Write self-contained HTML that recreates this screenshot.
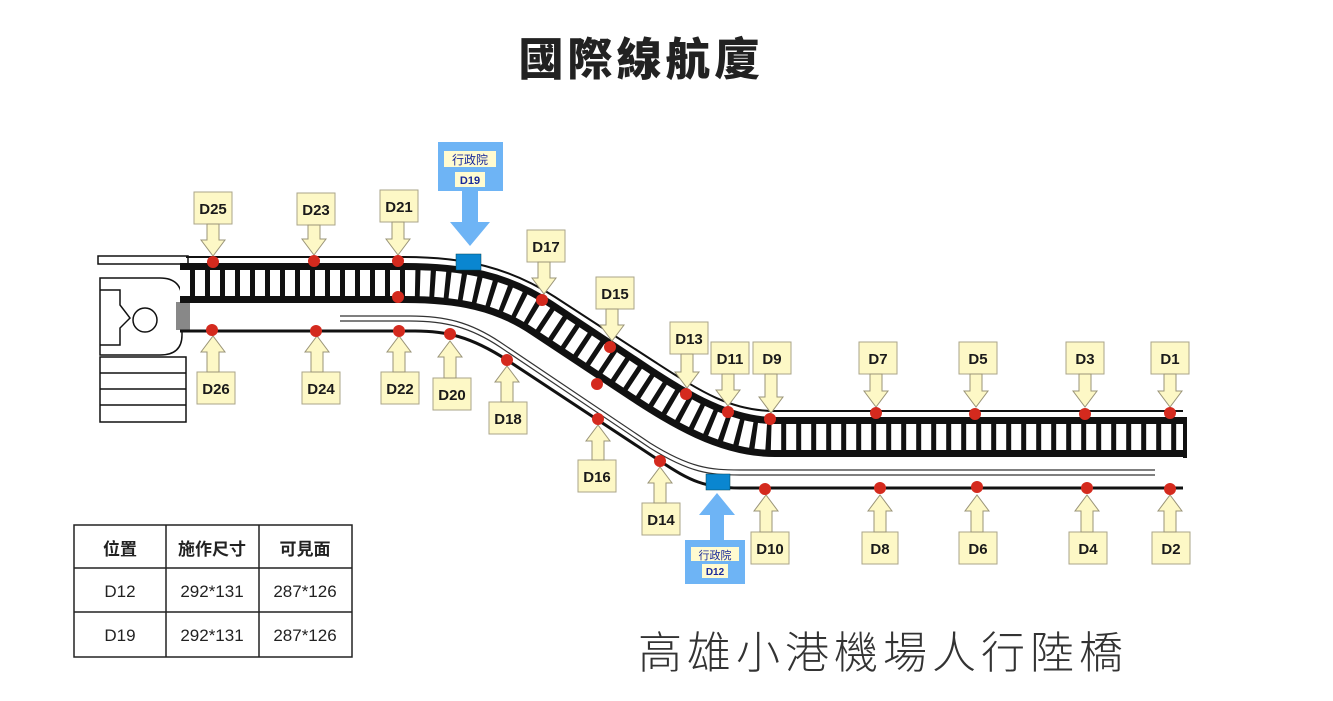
<!DOCTYPE html>
<html><head><meta charset="utf-8"><style>
body{margin:0;background:#fff;width:1333px;height:701px;overflow:hidden}
svg{display:block}
.b{fill:#fdf8c6;stroke:#aaa48a;stroke-width:1}
.a{fill:#fdf8c6;stroke:#9a9478;stroke-width:1}
.t{font-family:"Liberation Sans",sans-serif;font-weight:bold;font-size:15px;fill:#1a1a1a;text-anchor:middle}
.d{fill:#d42a1e}
.cj{font-family:"Liberation Sans","Noto Sans CJK TC",sans-serif}
</style></head><body>
<svg width="1333" height="701" viewBox="0 0 1333 701">
<text x="641" y="75" class="cj" font-size="45" font-weight="900" text-anchor="middle" fill="#222" letter-spacing="4">國際線航廈</text>
<text x="883" y="668" class="cj" font-size="44" text-anchor="middle" fill="#333" letter-spacing="5" font-weight="300">高雄小港機場人行陸橋</text>

<!-- left building -->
<rect x="98" y="256" width="90" height="8" fill="#fff" stroke="#111" stroke-width="1.5"/>
<path d="M100,278 L160,278 Q182,278 182,300 L182,335 Q182,355 160,355 L100,355 Z" fill="#fff" stroke="#111" stroke-width="1.5"/>
<path d="M100,290 L120,290 L120,305 L130,318 L120,328 L120,345 L100,345" fill="none" stroke="#111" stroke-width="1.5"/>
<circle cx="145" cy="320" r="12" fill="#fff" stroke="#111" stroke-width="1.5"/>
<rect x="100" y="357" width="86" height="65" fill="#fff" stroke="#111" stroke-width="1.5"/>
<line x1="100" y1="373" x2="186" y2="373" stroke="#111" stroke-width="1.5"/>
<line x1="100" y1="389" x2="186" y2="389" stroke="#111" stroke-width="1.5"/>
<line x1="100" y1="405" x2="186" y2="405" stroke="#111" stroke-width="1.5"/>
<rect x="176" y="302" width="14" height="28" fill="#888"/>

<!-- outer top line -->
<path d="M186,257 L405,257 C465,257 510,268 555,297 L655,362 C700,391 730,411 775,411 L1183,411" fill="none" stroke="#111" stroke-width="2"/>
<!-- walkway lines -->
<path d="M180,331 L415,331 C445,331 470,336 507,360 L660,461 C690,481 705,488 740,488 L1183,488" fill="none" stroke="#111" stroke-width="3"/>
<path d="M340,316 L410,316 C445,316 470,322 500,342 L650,443 C690,468 710,470 740,470 L1155,470" fill="none" stroke="#333" stroke-width="1.2"/>
<path d="M340,321 L410,321 C445,321 470,327 500,347 L650,448 C690,473 710,475 740,475 L1155,475" fill="none" stroke="#333" stroke-width="1.2"/>
<!-- band -->
<path d="M180,283 L405,283 C460,283 502,291 542,318 L640,383 C680,409 725,437 775,437 L1183,437" fill="none" stroke="#111" stroke-width="40"/>
<path d="M180,283 L405,283 C460,283 502,291 542,318 L640,383 C680,409 725,437 775,437 L1183,437" fill="none" stroke="#fff" stroke-width="26" stroke-dasharray="10 5"/>
<rect x="1183" y="417" width="4" height="41" fill="#111"/>

<!-- blue markers -->
<rect x="438" y="142" width="65" height="49" fill="#6eb4f5"/>
<rect x="444" y="151" width="52" height="16" fill="#fffbd0"/>
<text x="470" y="164" class="cj" font-size="12" text-anchor="middle" fill="#1a2a9a">行政院</text>
<rect x="455" y="172" width="30" height="15" fill="#fffbd0"/>
<text x="470" y="184" class="cj" font-size="11" font-weight="bold" text-anchor="middle" fill="#1a2a9a">D19</text>
<polygon points="462,191 478,191 478,222 490,222 470,246 450,222 462,222" fill="#6eb4f5"/>
<rect x="456" y="254" width="25" height="16" fill="#0a86d0" stroke="#045" stroke-width="0.5"/>

<rect x="706" y="474" width="24" height="16" fill="#0a86d0" stroke="#045" stroke-width="0.5"/>
<polygon points="717,493 735,515 724,515 724,541 710,541 710,515 699,515" fill="#6eb4f5"/>
<rect x="685" y="540" width="60" height="44" fill="#6eb4f5"/>
<rect x="691" y="547" width="48" height="14" fill="#fffbd0"/>
<text x="715" y="559" class="cj" font-size="11" text-anchor="middle" fill="#1a2a9a">行政院</text>
<rect x="702" y="564" width="26" height="14" fill="#fffbd0"/>
<text x="715" y="575" class="cj" font-size="10" font-weight="bold" text-anchor="middle" fill="#1a2a9a">D12</text>

<!-- top callouts -->
<g>
<rect class="b" x="194" y="192" width="38" height="32"/><polygon class="a" points="207,224 219,224 219,240 225,240 213,256 201,240 207,240"/><text class="t" x="213" y="214">D25</text>
<rect class="b" x="297" y="193" width="38" height="32"/><polygon class="a" points="308,225 320,225 320,239 326,239 314,255 302,239 308,239"/><text class="t" x="316" y="215">D23</text>
<rect class="b" x="380" y="190" width="38" height="32"/><polygon class="a" points="392,222 404,222 404,239 410,239 398,255 386,239 392,239"/><text class="t" x="399" y="212">D21</text>
<rect class="b" x="527" y="230" width="38" height="32"/><polygon class="a" points="538,262 550,262 550,278 556,278 544,294 532,278 538,278"/><text class="t" x="546" y="252">D17</text>
<rect class="b" x="596" y="277" width="38" height="32"/><polygon class="a" points="606,309 618,309 618,325 624,325 612,341 600,325 606,325"/><text class="t" x="615" y="299">D15</text>
<rect class="b" x="670" y="322" width="38" height="32"/><polygon class="a" points="681,354 693,354 693,372 699,372 687,388 675,372 681,372"/><text class="t" x="689" y="344">D13</text>
<rect class="b" x="711" y="342" width="38" height="32"/><polygon class="a" points="722,374 734,374 734,390 740,390 728,406 716,390 722,390"/><text class="t" x="730" y="364">D11</text>
<rect class="b" x="753" y="342" width="38" height="32"/><polygon class="a" points="765,374 777,374 777,397 783,397 771,413 759,397 765,397"/><text class="t" x="772" y="364">D9</text>
<rect class="b" x="859" y="342" width="38" height="32"/><polygon class="a" points="870,374 882,374 882,391 888,391 876,407 864,391 870,391"/><text class="t" x="878" y="364">D7</text>
<rect class="b" x="959" y="342" width="38" height="32"/><polygon class="a" points="970,374 982,374 982,391 988,391 976,407 964,391 970,391"/><text class="t" x="978" y="364">D5</text>
<rect class="b" x="1066" y="342" width="38" height="32"/><polygon class="a" points="1079,374 1091,374 1091,391 1097,391 1085,407 1073,391 1079,391"/><text class="t" x="1085" y="364">D3</text>
<rect class="b" x="1151" y="342" width="38" height="32"/><polygon class="a" points="1164,374 1176,374 1176,391 1182,391 1170,407 1158,391 1164,391"/><text class="t" x="1170" y="364">D1</text>
</g>
<!-- bottom callouts -->
<g>
<rect class="b" x="197" y="372" width="38" height="32"/><polygon class="a" points="207,372 219,372 219,352 225,352 213,336 201,352 207,352"/><text class="t" x="216" y="394">D26</text>
<rect class="b" x="302" y="372" width="38" height="32"/><polygon class="a" points="311,372 323,372 323,352 329,352 317,336 305,352 311,352"/><text class="t" x="321" y="394">D24</text>
<rect class="b" x="381" y="372" width="38" height="32"/><polygon class="a" points="393,372 405,372 405,352 411,352 399,336 387,352 393,352"/><text class="t" x="400" y="394">D22</text>
<rect class="b" x="433" y="378" width="38" height="32"/><polygon class="a" points="444,378 456,378 456,357 462,357 450,341 438,357 444,357"/><text class="t" x="452" y="400">D20</text>
<rect class="b" x="489" y="402" width="38" height="32"/><polygon class="a" points="501,402 513,402 513,382 519,382 507,366 495,382 501,382"/><text class="t" x="508" y="424">D18</text>
<rect class="b" x="578" y="460" width="38" height="32"/><polygon class="a" points="592,460 604,460 604,441 610,441 598,425 586,441 592,441"/><text class="t" x="597" y="482">D16</text>
<rect class="b" x="642" y="503" width="38" height="32"/><polygon class="a" points="654,503 666,503 666,483 672,483 660,467 648,483 654,483"/><text class="t" x="661" y="525">D14</text>
<rect class="b" x="751" y="532" width="38" height="32"/><polygon class="a" points="760,532 772,532 772,511 778,511 766,495 754,511 760,511"/><text class="t" x="770" y="554">D10</text>
<rect class="b" x="862" y="532" width="36" height="32"/><polygon class="a" points="874,532 886,532 886,511 892,511 880,495 868,511 874,511"/><text class="t" x="880" y="554">D8</text>
<rect class="b" x="959" y="532" width="38" height="32"/><polygon class="a" points="971,532 983,532 983,511 989,511 977,495 965,511 971,511"/><text class="t" x="978" y="554">D6</text>
<rect class="b" x="1069" y="532" width="38" height="32"/><polygon class="a" points="1081,532 1093,532 1093,511 1099,511 1087,495 1075,511 1081,511"/><text class="t" x="1088" y="554">D4</text>
<rect class="b" x="1152" y="532" width="38" height="32"/><polygon class="a" points="1164,532 1176,532 1176,511 1182,511 1170,495 1158,511 1164,511"/><text class="t" x="1171" y="554">D2</text>
</g>
<!-- dots -->
<g class="d">
<circle cx="213" cy="262" r="6"/><circle cx="314" cy="261" r="6"/><circle cx="398" cy="261" r="6"/><circle cx="398" cy="297" r="6"/>
<circle cx="542" cy="300" r="6"/><circle cx="610" cy="347" r="6"/><circle cx="597" cy="384" r="6"/><circle cx="686" cy="394" r="6"/>
<circle cx="728" cy="412" r="6"/><circle cx="770" cy="419" r="6"/><circle cx="876" cy="413" r="6"/><circle cx="975" cy="414" r="6"/>
<circle cx="1085" cy="414" r="6"/><circle cx="1170" cy="413" r="6"/>
<circle cx="212" cy="330" r="6"/><circle cx="316" cy="331" r="6"/><circle cx="399" cy="331" r="6"/><circle cx="450" cy="334" r="6"/>
<circle cx="507" cy="360" r="6"/><circle cx="598" cy="419" r="6"/><circle cx="660" cy="461" r="6"/><circle cx="765" cy="489" r="6"/>
<circle cx="880" cy="488" r="6"/><circle cx="977" cy="487" r="6"/><circle cx="1087" cy="488" r="6"/><circle cx="1170" cy="489" r="6"/>
</g>

<!-- table -->
<g stroke="#222" stroke-width="1.5" fill="none">
<rect x="74" y="525" width="278" height="132"/>
<line x1="166" y1="525" x2="166" y2="657"/><line x1="259" y1="525" x2="259" y2="657"/>
<line x1="74" y1="568" x2="352" y2="568"/><line x1="74" y1="612" x2="352" y2="612"/>
</g>
<g class="cj" font-size="17" text-anchor="middle" fill="#222">
<text x="120" y="555" font-weight="bold">位置</text>
<text x="212" y="555" font-weight="bold">施作尺寸</text>
<text x="305" y="555" font-weight="bold">可見面</text>
<text x="120" y="597">D12</text><text x="212" y="597">292*131</text><text x="305" y="597">287*126</text>
<text x="120" y="641">D19</text><text x="212" y="641">292*131</text><text x="305" y="641">287*126</text>
</g>
</svg>
</body></html>
